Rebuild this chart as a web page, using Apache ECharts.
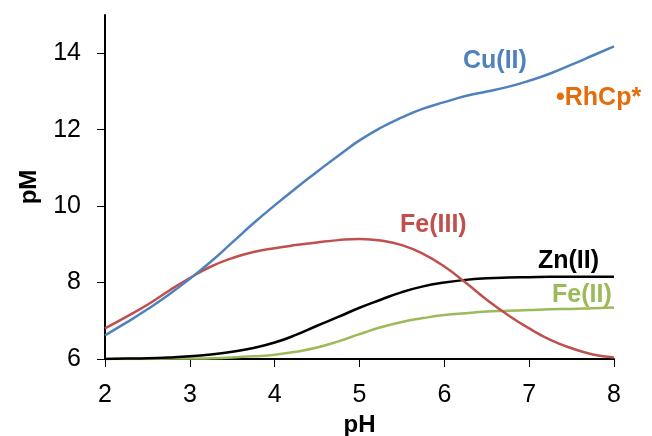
<!DOCTYPE html>
<html style="height: 100%">
<head>
    <meta charset="utf-8">
    <script src="https://cdn.jsdelivr.net/npm/echarts@6/dist/echarts.min.js"></script>
</head>
<body style="height: 100%; margin: 0; background: #fff">
    <div id="main" style="width: 652px; height: 436px"></div>
    <script type="text/javascript">
        // pH grid
        var phValues = [2, 2.25, 2.5, 2.75, 3, 3.25, 3.5, 3.75, 4, 4.25, 4.5, 4.75, 5,
                        5.25, 5.5, 5.75, 6, 6.25, 6.5, 6.75, 7, 7.25, 7.5, 7.75, 8];
        // pM curves
        var cuValues  = [6.62, 6.95, 7.3, 7.68, 8.1, 8.55, 9.05, 9.55, 10.02, 10.47, 10.9, 11.32, 11.72,
                         12.05, 12.32, 12.55, 12.72, 12.88, 13.0, 13.12, 13.28, 13.47, 13.7, 13.94, 14.18];
        var fe3Values = [6.8, 7.1, 7.42, 7.78, 8.12, 8.42, 8.64, 8.8, 8.9, 8.98, 9.05, 9.11, 9.14,
                         9.1, 8.98, 8.75, 8.42, 8.0, 7.55, 7.15, 6.8, 6.5, 6.28, 6.12, 6.04];
        var znValues  = [6.0, 6.01, 6.02, 6.04, 6.07, 6.12, 6.19, 6.29, 6.43, 6.63, 6.87, 7.1, 7.34,
                         7.55, 7.75, 7.9, 8.0, 8.07, 8.11, 8.13, 8.14, 8.15, 8.15, 8.15, 8.15];
        var fe2Values = [6.0, 6.0, 6.0, 6.01, 6.01, 6.02, 6.04, 6.07, 6.11, 6.19, 6.3, 6.46, 6.65,
                         6.83, 6.97, 7.07, 7.15, 7.2, 7.24, 7.26, 7.28, 7.3, 7.31, 7.33, 7.35];
        var yTicks = [6, 8, 10, 12, 14];

        var font = '"Liberation Sans", Arial, sans-serif';

        function pairs(ys) {
            return phValues.map(function (x, i) { return [x, ys[i]]; });
        }

        function curve(name, ys, color) {
            return {
                name: name,
                type: 'line',
                data: pairs(ys),
                smooth: true,
                showSymbol: false,
                lineStyle: { color: color, width: 2.5 },
                itemStyle: { color: color }
            };
        }

        function label(text, x, y, color) {
            return {
                type: 'text',
                x: x,
                y: y,
                style: {
                    text: text,
                    fill: color,
                    font: 'bold 25px ' + font,
                    verticalAlign: 'middle'
                }
            };
        }

        var myChart = echarts.init(document.getElementById('main'));

        var option = {
            animation: false,
            grid: { left: 105, right: 38, top: 15, bottom: 77, outerBoundsMode: 'none' },
            xAxis: {
                type: 'value',
                min: 2,
                max: 8,
                interval: 1,
                name: 'pH',
                nameLocation: 'middle',
                nameGap: 54,
                nameTextStyle: { color: '#000', fontSize: 24, fontWeight: 'bold', fontFamily: font },
                axisLine: { lineStyle: { color: '#000', width: 2 } },
                axisTick: { show: true, length: 8, lineStyle: { color: '#000', width: 1 } },
                axisLabel: { color: '#000', fontSize: 25, fontFamily: font, margin: 24 },
                splitLine: { show: false }
            },
            yAxis: {
                type: 'value',
                min: 6,
                max: 15,
                interval: 1,
                name: 'pM',
                nameLocation: 'middle',
                nameGap: 64,
                nameTextStyle: { color: '#000', fontSize: 24, fontWeight: 'bold', fontFamily: font },
                axisLine: { show: true, lineStyle: { color: '#000', width: 2 } },
                axisTick: { show: true, length: 8, customValues: yTicks, lineStyle: { color: '#000', width: 1 } },
                axisLabel: { color: '#000', fontSize: 25, fontFamily: font, margin: 24, customValues: yTicks },
                splitLine: { show: false }
            },
            series: [
                curve('Fe(II)', fe2Values, '#9BBB59'),
                curve('Zn(II)', znValues, '#000000'),
                curve('Fe(III)', fe3Values, '#C0504D'),
                curve('Cu(II)', cuValues, '#4F81BD')
            ],
            graphic: [
                label('Cu(II)', 463, 61, '#4F81BD'),
                label('\u2022RhCp*', 556, 98, '#E46C0A'),
                label('Fe(III)', 400, 225, '#C0504D'),
                label('Zn(II)', 538, 261, '#000000'),
                label('Fe(II)', 552, 295, '#9BBB59')
            ]
        };

        myChart.setOption(option);
    </script>
</body>
</html>
